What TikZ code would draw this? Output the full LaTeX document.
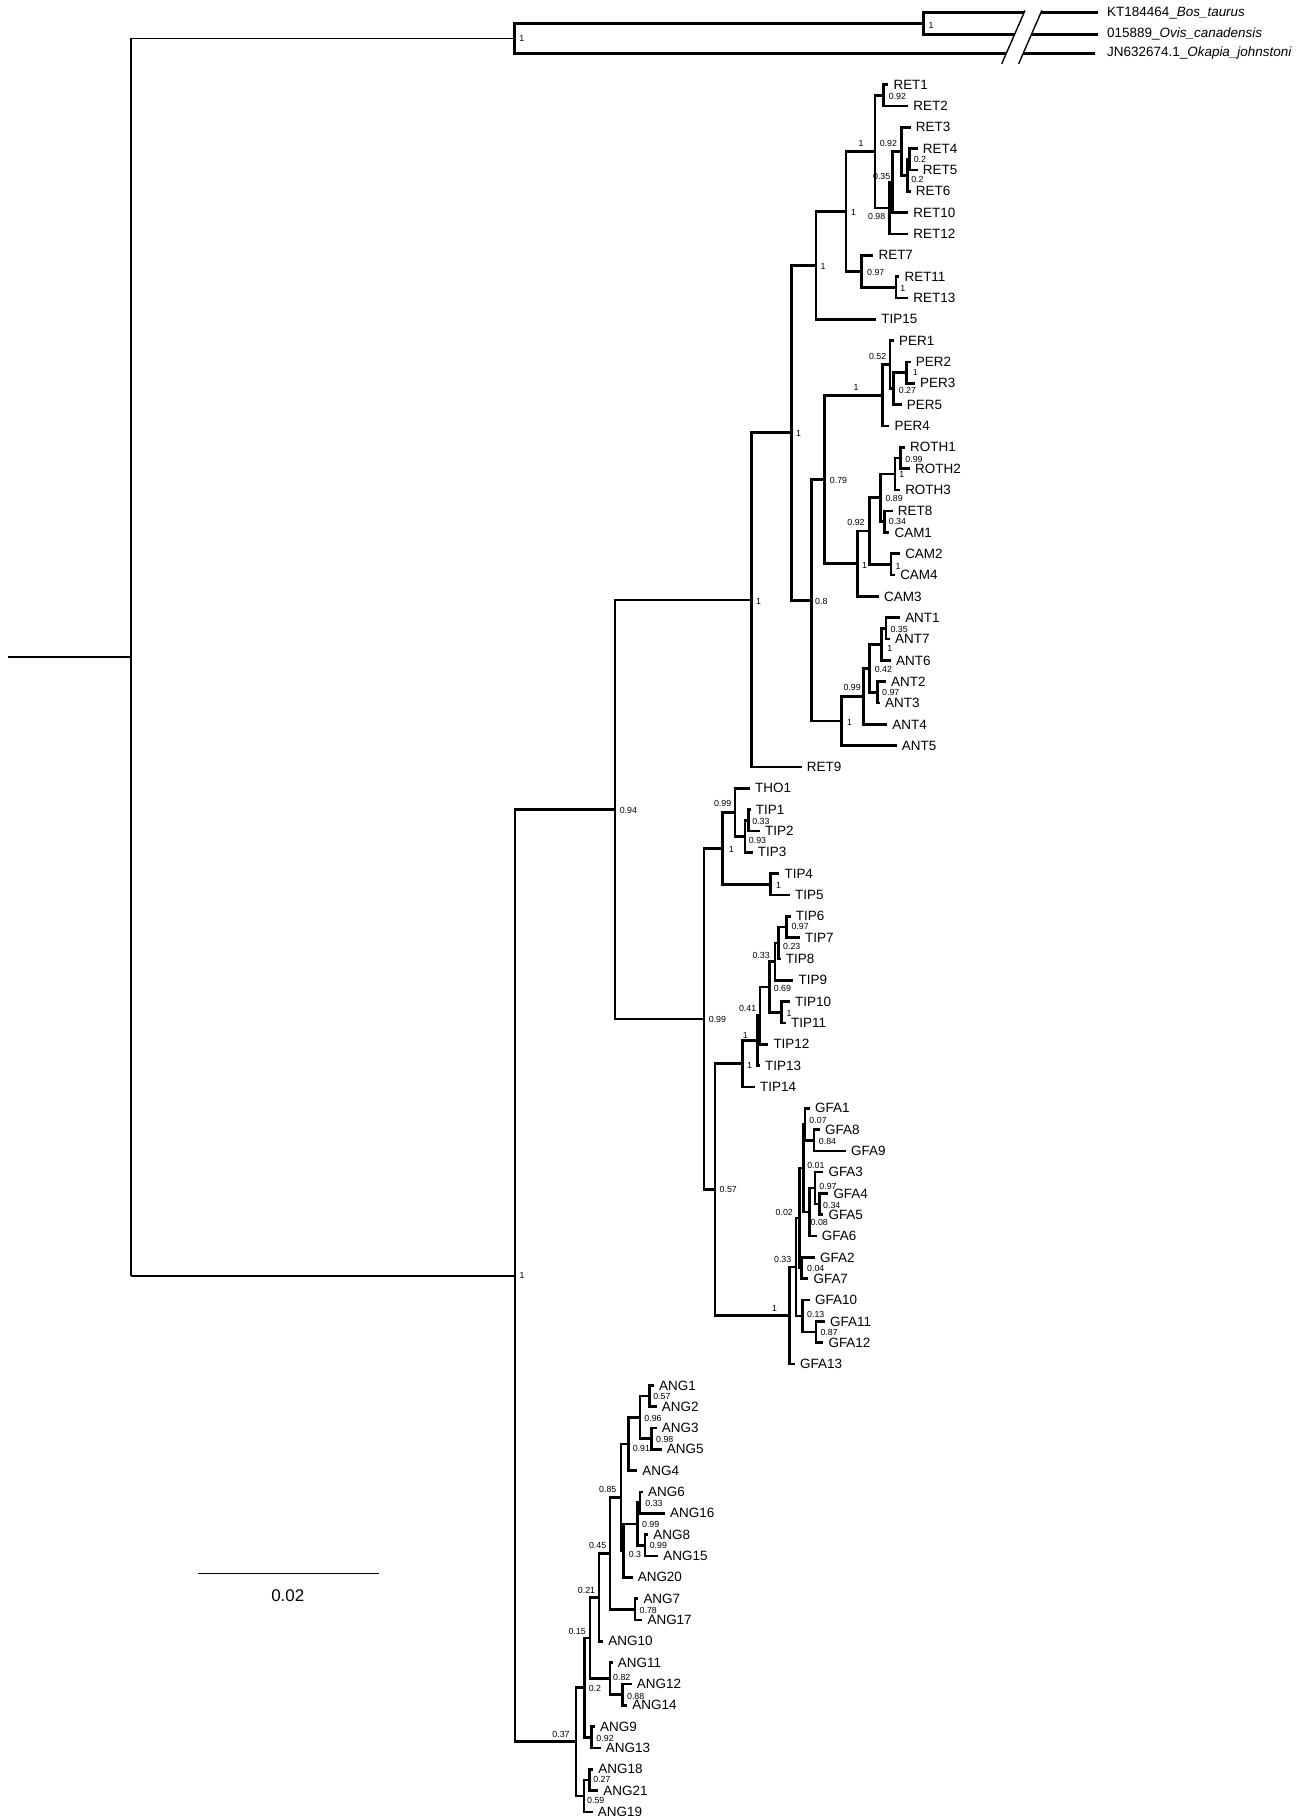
\documentclass[tikz,border=0pt]{standalone}
\usepackage{fontspec}
\setmainfont{Liberation Sans}
\usetikzlibrary{calc}
\newcommand{\Tip}[4]{%
  \coordinate (#1) at (#3,{72.98+18.37*#2});
  \node[tiplab] (#1lab) at ([xshift=2pt]#1) {#4};}
\newcommand{\Inode}[4]{%
  \coordinate (#1m) at ($(#3)!0.5!(#4)$);
  \coordinate (#1x) at (#2,0);
  \coordinate (#1) at (#1x |- #1m);
  \draw[br] (#1) |- (#3);
  \draw[br] (#1) |- (#4);}
\newcommand{\LabR}[4]{\node[sup,anchor=west] (#1s) at ([shift={(#2,#3)}]#1) {#4};}
\newcommand{\LabL}[4]{\node[sup,anchor=east] (#1s) at ([shift={(#2,#3)}]#1) {#4};}
\begin{document}
\begin{tikzpicture}[x=0.5pt,y=-0.5pt,
  br/.style={line width=1.15pt},
  thinbr/.style={line width=0.8pt},
  brk/.style={line width=0.6pt},
  tiplab/.style={anchor=west,inner sep=0pt,font=\fontsize{5.8}{6.5}\selectfont},
  sup/.style={inner sep=0pt,font=\fontsize{3.8}{4.5}\selectfont},
  scaletxt/.style={inner sep=0pt,font=\fontsize{7.3}{8}\selectfont}]
\useasboundingbox (0,0) rectangle (1127,1568);
% ---------------- tips
\Tip{tRET1}{0}{765.4}{RET1}
\Tip{tRET2}{1}{782.6}{RET2}
\Tip{tRET3}{2}{784.7}{RET3}
\Tip{tRET4}{3}{790.7}{RET4}
\Tip{tRET5}{4}{790.7}{RET5}
\Tip{tRET6}{5}{784.7}{RET6}
\Tip{tRET10}{6}{782.6}{RET10}
\Tip{tRET12}{7}{782.6}{RET12}
\Tip{tRET7}{8}{752.5}{RET7}
\Tip{tRET11}{9}{774.9}{RET11}
\Tip{tRET13}{10}{782.6}{RET13}
\Tip{tTIP15}{11}{755.0}{TIP15}
\Tip{tPER1}{12}{770.3}{PER1}
\Tip{tPER2}{13}{784.7}{PER2}
\Tip{tPER3}{14}{788.4}{PER3}
\Tip{tPER5}{15}{776.9}{PER5}
\Tip{tPER4}{16}{766.3}{PER4}
\Tip{tROTH1}{17}{779.8}{ROTH1}
\Tip{tROTH2}{18}{784.1}{ROTH2}
\Tip{tROTH3}{19}{775.5}{ROTH3}
\Tip{tRET8}{20}{769.1}{RET8}
\Tip{tCAM1}{21}{766.3}{CAM1}
\Tip{tCAM2}{22}{775.5}{CAM2}
\Tip{tCAM4}{23}{771.2}{CAM4}
\Tip{tCAM3}{24}{757.4}{CAM3}
\Tip{tANT1}{25}{775.5}{ANT1}
\Tip{tANT7}{26}{766.8}{ANT7}
\Tip{tANT6}{27}{767.7}{ANT6}
\Tip{tANT2}{28}{763.4}{ANT2}
\Tip{tANT3}{29}{758.2}{ANT3}
\Tip{tANT4}{30}{764.5}{ANT4}
\Tip{tANT5}{31}{772.6}{ANT5}
\Tip{tRET9}{32}{690.7}{RET9}
\Tip{tTHO1}{33}{646.2}{THO1}
\Tip{tTIP1}{34}{646.8}{TIP1}
\Tip{tTIP2}{35}{654.8}{TIP2}
\Tip{tTIP3}{36}{648.5}{TIP3}
\Tip{tTIP4}{37}{671.5}{TIP4}
\Tip{tTIP5}{38}{680.7}{TIP5}
\Tip{tTIP6}{39}{681.3}{TIP6}
\Tip{tTIP7}{40}{689.3}{TIP7}
\Tip{tTIP8}{41}{672.6}{TIP8}
\Tip{tTIP9}{42}{683.6}{TIP9}
\Tip{tTIP10}{43}{680.7}{TIP10}
\Tip{tTIP11}{44}{677.2}{TIP11}
\Tip{tTIP12}{45}{662.0}{TIP12}
\Tip{tTIP13}{46}{654.8}{TIP13}
\Tip{tTIP14}{47}{650.5}{TIP14}
\Tip{tGFA1}{48}{697.9}{GFA1}
\Tip{tGFA8}{49}{706.5}{GFA8}
\Tip{tGFA9}{50}{728.9}{GFA9}
\Tip{tGFA3}{51}{709.4}{GFA3}
\Tip{tGFA4}{52}{713.7}{GFA4}
\Tip{tGFA5}{53}{709.4}{GFA5}
\Tip{tGFA6}{54}{703.7}{GFA6}
\Tip{tGFA2}{55}{702.2}{GFA2}
\Tip{tGFA7}{56}{696.5}{GFA7}
\Tip{tGFA10}{57}{697.9}{GFA10}
\Tip{tGFA11}{58}{710.8}{GFA11}
\Tip{tGFA12}{59}{709.4}{GFA12}
\Tip{tGFA13}{60}{685.0}{GFA13}
\Tip{tANG1}{61}{563.5}{ANG1}
\Tip{tANG2}{62}{565.8}{ANG2}
\Tip{tANG3}{63}{565.8}{ANG3}
\Tip{tANG5}{64}{570.1}{ANG5}
\Tip{tANG4}{65}{549.1}{ANG4}
\Tip{tANG6}{66}{554.0}{ANG6}
\Tip{tANG16}{67}{573.0}{ANG16}
\Tip{tANG8}{68}{558.6}{ANG8}
\Tip{tANG15}{69}{567.2}{ANG15}
\Tip{tANG20}{70}{545.1}{ANG20}
\Tip{tANG7}{71}{550.0}{ANG7}
\Tip{tANG17}{72}{553.5}{ANG17}
\Tip{tANG10}{73}{519.8}{ANG10}
\Tip{tANG11}{74}{527.9}{ANG11}
\Tip{tANG12}{75}{544.3}{ANG12}
\Tip{tANG14}{76}{540.5}{ANG14}
\Tip{tANG9}{77}{512.7}{ANG9}
\Tip{tANG13}{78}{517.6}{ANG13}
\Tip{tANG18}{79}{511.2}{ANG18}
\Tip{tANG21}{80}{515.5}{ANG21}
\Tip{tANG19}{81}{510.7}{ANG19}
% ---------------- RET clade
\Inode{nRET45}{783.5}{tRET4}{tRET5}
\Inode{nRET456}{781.8}{nRET45}{tRET6}
\Inode{nRET3456}{776.9}{tRET3}{nRET456}
\Inode{nRET310}{769.1}{nRET3456}{tRET10}
\Inode{nRET312}{766.3}{nRET310}{tRET12}
\Inode{nRET12}{761.1}{tRET1}{tRET2}
\Inode{nRETa}{753.9}{nRET12}{nRET312}
\Inode{nRET1113}{772.0}{tRET11}{tRET13}
\Inode{nRET7}{742.4}{tRET7}{nRET1113}
\Inode{nRETc}{728.9}{nRETa}{nRET7}
\Inode{nT15}{703}{nRETc}{tTIP15}
% ---------------- PER
\Inode{nPER23}{781.2}{tPER2}{tPER3}
\Inode{nPER235}{769.7}{nPER23}{tPER5}
\Inode{nPER1}{766.8}{tPER1}{nPER235}
\Inode{nPER}{760.5}{nPER1}{tPER4}
% ---------------- ROTH / CAM
\Inode{nROTH12}{776.0}{tROTH1}{tROTH2}
\Inode{nROTH123}{771.2}{nROTH12}{tROTH3}
\Inode{nRETeC}{762.0}{tRET8}{tCAM1}
\Inode{nROTHR}{758.8}{nROTH123}{nRETeC}
\Inode{nCAM24}{767.7}{tCAM2}{tCAM4}
\Inode{nRC}{749.0}{nROTHR}{nCAM24}
\Inode{nRCt}{739.0}{nRC}{tCAM3}
\Inode{nSSN}{710.3}{nPER}{nRCt}
% ---------------- ANT
\Inode{nANT17}{763.4}{tANT1}{tANT7}
\Inode{nANT176}{759.7}{nANT17}{tANT6}
\Inode{nANT23}{755.9}{tANT2}{tANT3}
\Inode{nANTa}{749.0}{nANT176}{nANT23}
\Inode{nANTb}{743.9}{nANTa}{tANT4}
\Inode{nANT}{725.2}{nANTb}{tANT5}
\Inode{nEIG}{699}{nSSN}{nANT}
\Inode{nSIX}{682.1}{nT15}{nEIG}
\Inode{nRnine}{647.6}{nSIX}{tRET9}
% ---------------- TIP
\Inode{nTIP12}{644.8}{tTIP1}{tTIP2}
\Inode{nTIP123}{641.9}{nTIP12}{tTIP3}
\Inode{nTHO}{633.3}{tTHO1}{nTIP123}
\Inode{nTIP45}{664.0}{tTIP4}{tTIP5}
\Inode{nTIPa}{622.7}{nTHO}{nTIP45}
\Inode{nTIP67}{677.8}{tTIP6}{tTIP7}
\Inode{nTIP678}{670.6}{nTIP67}{tTIP8}
\Inode{nTIPsix}{667.8}{nTIP678}{tTIP9}
\Inode{nTIPten}{673.5}{tTIP10}{tTIP11}
\Inode{nTIPb}{662.9}{nTIPsix}{nTIPten}
\Inode{nTIPc}{654.8}{nTIPb}{tTIP12}
\Inode{nTIPd}{652.5}{nTIPc}{tTIP13}
\Inode{nTIPe}{639.9}{nTIPd}{tTIP14}
% ---------------- GFA
\Inode{nGFA89}{701.4}{tGFA8}{tGFA9}
\Inode{nGFA189}{693.6}{tGFA1}{nGFA89}
\Inode{nGFA45}{705.9}{tGFA4}{tGFA5}
\Inode{nGFA345}{702.2}{tGFA3}{nGFA45}
\Inode{nGFAsix}{697.4}{nGFA345}{tGFA6}
\Inode{nGFAa}{692.2}{nGFA189}{nGFAsix}
\Inode{nGFA27}{690.7}{tGFA2}{tGFA7}
\Inode{nGFAb}{688.7}{nGFAa}{nGFA27}
\Inode{nGFA1112}{703.1}{tGFA11}{tGFA12}
\Inode{nGFAten}{691.6}{tGFA10}{nGFA1112}
\Inode{nGFAc}{685.8}{nGFAb}{nGFAten}
\Inode{nGFA}{680.1}{nGFAc}{tGFA13}
\Inode{nFSS}{616.1}{nTIPe}{nGFA}
\Inode{nNNa}{606.6}{nTIPa}{nFSS}
\Inode{nNFO}{529.9}{nRnine}{nNNa}
% ---------------- ANG
\Inode{nANG12}{559.5}{tANG1}{tANG2}
\Inode{nANG35}{561.5}{tANG3}{tANG5}
\Inode{nANGa}{551.4}{nANG12}{nANG35}
\Inode{nANGb}{541.4}{nANGa}{tANG4}
\Inode{nANG616}{551.4}{tANG6}{tANG16}
\Inode{nANG815}{555.7}{tANG8}{tANG15}
\Inode{nANGc}{549.1}{nANG616}{nANG815}
\Inode{nANGd}{537.1}{nANGc}{tANG20}
\Inode{nANGe}{535.1}{nANGb}{nANGd}
\Inode{nANG717}{547.0}{tANG7}{tANG17}
\Inode{nANGf}{525.6}{nANGe}{nANG717}
\Inode{nANGg}{516.0}{nANGf}{tANG10}
\Inode{nANG1214}{536.5}{tANG12}{tANG14}
\Inode{nANGh}{525.6}{tANG11}{nANG1214}
\Inode{nANGi}{508.4}{nANGg}{nANGh}
\Inode{nANG913}{509.8}{tANG9}{tANG13}
\Inode{nANGj}{503.5}{nANGi}{nANG913}
\Inode{nANG1821}{507.8}{tANG18}{tANG21}
\Inode{nANGk}{503.2}{nANG1821}{tANG19}
\Inode{nANGl}{496.3}{nANGj}{nANGk}
\Inode{nIn}{443.7}{nNFO}{nANGl}
% ---------------- outgroup with break
\coordinate (tBos) at (945.8,11);
\coordinate (tOvis) at (945.8,29.5);
\coordinate (tOka) at (943.5,46);
\coordinate (bBosA) at (882.2,11);
\coordinate (bBosB) at (896.7,11);
\coordinate (bOvisA) at (874.1,29.5);
\coordinate (bOvisB) at (888.7,29.5);
\coordinate (bOkaA) at (866.9,46);
\coordinate (bOkaB) at (881.5,46);
\Inode{nSub}{795.7}{bBosA}{bOvisA}
\Inode{nOut}{443.1}{nSub}{bOkaA}
\draw[br] (bBosB) -- (tBos);
\draw[br] (bOvisB) -- (tOvis);
\draw[br] (bOkaB) -- (tOka);
\coordinate (sOneA) at (883.1,9);
\coordinate (sOneB) at (863.0,55);
\coordinate (sTwoA) at (897.6,9);
\coordinate (sTwoB) at (877.6,55);
\draw[brk] (sOneA) -- (sOneB);
\draw[brk] (sTwoA) -- (sTwoB);
\node[tiplab] (lBos) at (953.5,11) {KT184464\_\textit{Bos\_taurus}};
\node[tiplab] (lOvis) at (953.5,29.5) {015889\_\textit{Ovis\_canadensis}};
\node[tiplab] (lOka) at (953.5,46) {JN632674.1\_\textit{Okapia\_johnstoni}};
% ---------------- root
\coordinate (nRootm) at ($(nOut)!0.5!(nIn)$);
\coordinate (nRootx) at (113,0);
\coordinate (nRoot) at (nRootx |- nRootm);
\coordinate (stubx) at (7,0);
\coordinate (rootStub) at (stubx |- nRoot);
\draw[br] (nRoot |- nOut) -- (nRoot |- nIn);
\draw[thinbr] (nRoot |- nOut) -- (nOut);
\draw[thinbr] (nRoot |- nIn) -- (nIn);
\draw[thinbr] (rootStub) -- (nRoot);
% ---------------- support values
\LabR{nRET12}{4.3}{0.7}{0.92}
\LabR{nRET45}{3.4}{0}{0.2}
\LabR{nRET456}{2.9}{3.4}{0.2}
\LabL{nRET3456}{-3.7}{-7}{0.92}
\LabL{nRET310}{-1.7}{-4.6}{0.35}
\LabL{nRET312}{-3.2}{7.6}{0.98}
\LabL{nRETa}{-9.5}{-7.2}{1}
\LabR{nRET7}{4.3}{0.9}{0.97}
\LabR{nRET1113}{3.4}{0.9}{1}
\LabR{nRETc}{4}{1.1}{1}
\LabR{nT15}{3.5}{1}{1}
\LabR{nSIX}{3.4}{0.5}{1}
\LabR{nEIG}{2.9}{1.1}{0.8}
\LabR{nSSN}{4.3}{0.6}{0.79}
\node[sup] (nPERs) at ([shift={(-23,-6.7)}]nPER) {1};
\LabL{nPER1}{-2.9}{-6.9}{0.52}
\LabR{nPER23}{4.9}{0}{1}
\LabR{nPER235}{4.3}{1.9}{0.27}
\LabR{nROTH12}{3.7}{1}{0.99}
\LabR{nROTH123}{3.2}{0.9}{1}
\LabR{nRETeC}{3.4}{0}{0.34}
\LabR{nROTHR}{3.7}{0.9}{0.89}
\LabR{nCAM24}{3.4}{1.3}{1}
\LabL{nRC}{-3.7}{-7.8}{0.92}
\LabR{nRCt}{3.4}{1.3}{1}
\LabR{nANT17}{3.4}{1.3}{0.35}
\LabR{nANT176}{4.3}{3.2}{1}
\LabR{nANT23}{3.7}{0.4}{0.97}
\LabR{nANTa}{4.3}{0.6}{0.42}
\LabL{nANTb}{-2}{-7.6}{0.99}
\LabR{nANT}{4.3}{1.6}{1}
\LabR{nRnine}{3.5}{1}{1}
\LabR{nNFO}{3.7}{1}{0.94}
\LabR{nIn}{3.5}{0}{1}
\LabR{nTIP12}{2.9}{0.7}{0.33}
\LabR{nTIP123}{2.9}{3.7}{0.93}
\LabL{nTHO}{-2.9}{-7.5}{0.99}
\LabR{nTIPa}{4.9}{0.9}{1}
\LabR{nTIP45}{4.3}{0.6}{1}
\LabR{nTIP67}{3.7}{0}{0.97}
\LabR{nTIP678}{3.7}{3.2}{0.23}
\LabL{nTIPsix}{-4.3}{-5.5}{0.33}
\LabR{nTIPten}{3.7}{1.3}{1}
\LabR{nTIPb}{3.4}{0.9}{0.69}
\LabL{nTIPc}{-2.9}{-6.5}{0.41}
\LabL{nTIPd}{-7.8}{-4.6}{1}
\LabR{nTIPe}{3.4}{1.1}{1}
\LabR{nNNa}{3.7}{0}{0.99}
\LabR{nFSS}{3.5}{0}{0.57}
\LabR{nGFA89}{3.7}{1}{0.84}
\LabR{nGFA189}{3.4}{-2.9}{0.07}
\LabR{nGFA45}{2.9}{1.3}{0.34}
\LabR{nGFA345}{3.4}{-1.1}{0.97}
\LabR{nGFAsix}{0.6}{8.6}{0.08}
\LabR{nGFAa}{2.9}{-2.4}{0.01}
\LabR{nGFA27}{4.3}{0.4}{0.04}
\LabL{nGFAb}{-5.2}{-4.7}{0.02}
\LabR{nGFA1112}{3.4}{0.7}{0.87}
\LabR{nGFAten}{3.4}{-1.4}{0.13}
\LabL{nGFAc}{-3.7}{-6.6}{0.33}
\LabL{nGFA}{-10.3}{-6.3}{1}
\LabR{nANG12}{2.9}{0.7}{0.57}
\LabR{nANG35}{3.4}{0.7}{0.98}
\LabR{nANGa}{3.4}{1}{0.96}
\LabR{nANGb}{3.4}{3.4}{0.91}
\LabR{nANG616}{4.3}{0.7}{0.33}
\LabR{nANG815}{3.7}{0.4}{0.99}
\LabR{nANGc}{3.7}{0}{0.99}
\LabR{nANGd}{4.3}{3.6}{0.3}
\LabL{nANGe}{-3.7}{-6.5}{0.85}
\LabR{nANG717}{3.7}{1}{0.78}
\LabL{nANGf}{-2.9}{-6.8}{0.45}
\LabL{nANGg}{-2.9}{-5.7}{0.21}
\LabL{nANGi}{-3.4}{-5.6}{0.15}
\LabR{nANG1214}{3.4}{1.4}{0.88}
\LabR{nANGh}{2.3}{-0.7}{0.82}
\LabR{nANGj}{3.4}{0.9}{0.2}
\LabR{nANG913}{3.7}{1.3}{0.92}
\LabL{nANGl}{-5.2}{-6.5}{0.37}
\LabR{nANG1821}{2.9}{0}{0.27}
\LabR{nANGk}{2.3}{3.7}{0.59}
\LabR{nSub}{4}{1.5}{1}
\LabR{nOut}{4}{0.3}{1}
% ---------------- scale bar
\coordinate (sbA) at (170.3,1355.6);
\coordinate (sbB) at (326.8,1355.6);
\draw[thinbr] (sbA) -- (sbB);
\node[scaletxt] (sbT) at (247.9,1374.9) {0.02};
\end{tikzpicture}
\end{document}
